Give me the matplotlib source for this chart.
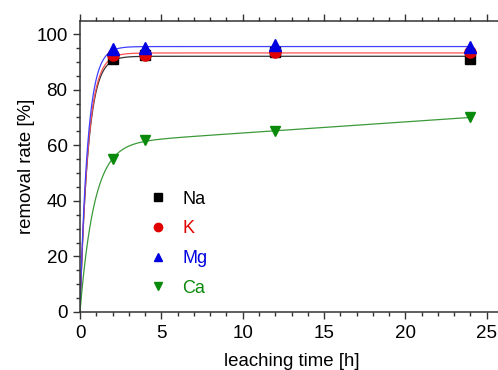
import numpy as np
import matplotlib.pyplot as plt
from matplotlib.ticker import MultipleLocator

plt.rcParams['font.family'] = ['Liberation Sans', 'DejaVu Sans']

# measured leaching data
time_h = [2, 4, 12, 24]
na = [91.0, 92.5, 93.5, 91.0]
k = [92.5, 92.5, 93.5, 93.5]
mg = [94.5, 95.0, 96.0, 95.5]
ca = [55.0, 62.0, 65.0, 70.0]

# fit parameters: plateau, rate constant, linear drift
fit_na = (92.0, 2.0, 0.0)
fit_k = (93.2, 2.0, 0.0)
fit_mg = (95.5, 2.1, 0.0)
fit_ca = (60.4, 1.15, 0.4)

names = ['Na', 'K', 'Mg', 'Ca']
colors = ['black', '#e00000', '#0000e0', '#0a8a0a']
line_colors = ['#333333', '#ff5050', '#4040ff', '#3a9a3a']
markers = ['s', 'o', '^', 'v']
msizes = [7, 8, 8, 7.5]


def fit_curve(t, params):
    a, rate, drift = params
    return a * (1 - np.exp(-rate * t)) + drift * t


fig = plt.figure(figsize=(4.98, 3.70), dpi=100)
ax = fig.add_axes([80 / 498, 58 / 370, 423 / 498, 291.3 / 370])

t_fit = np.linspace(0, 24, 600)
series = [na, k, mg, ca]
fits = [fit_na, fit_k, fit_mg, fit_ca]
handles = []
for vals, fp, name, c, lc, m, ms in zip(series, fits, names, colors, line_colors, markers, msizes):
    ax.plot(t_fit, fit_curve(t_fit, fp), color=lc, lw=0.9, zorder=2)
    h, = ax.plot(time_h, vals, ls='none', marker=m, ms=ms, color=c, label=name, zorder=3)
    handles.append(h)

ax.set_xlim(0, 26)
ax.set_ylim(0, 104.8)
ax.xaxis.set_major_locator(MultipleLocator(5))
ax.xaxis.set_minor_locator(MultipleLocator(1))
ax.yaxis.set_major_locator(MultipleLocator(20))
ax.yaxis.set_minor_locator(MultipleLocator(5))
ax.tick_params(which='both', direction='out', top=True, right=False,
               labelsize=13.5, color='#333333', width=1)
ax.tick_params(which='major', length=5, pad=4)
ax.tick_params(which='minor', length=3)
for side in ['left', 'bottom', 'top']:
    ax.spines[side].set_color('#333333')
    ax.spines[side].set_linewidth(1.1)
ax.spines['right'].set_visible(False)

ax.set_xlabel('leaching time [h]', fontsize=13.4, labelpad=8)
ax.set_ylabel('removal rate [%]', fontsize=13.4, labelpad=1)

leg = ax.legend(handles=handles, loc='upper left', bbox_to_anchor=(0.125, 0.472),
                frameon=False, markerscale=0.75, handlelength=1.0,
                handletextpad=0.85, labelspacing=0.7, fontsize=13)
for txt, c in zip(leg.get_texts(), colors):
    txt.set_color(c)

fig.savefig('out.png', dpi=100)
